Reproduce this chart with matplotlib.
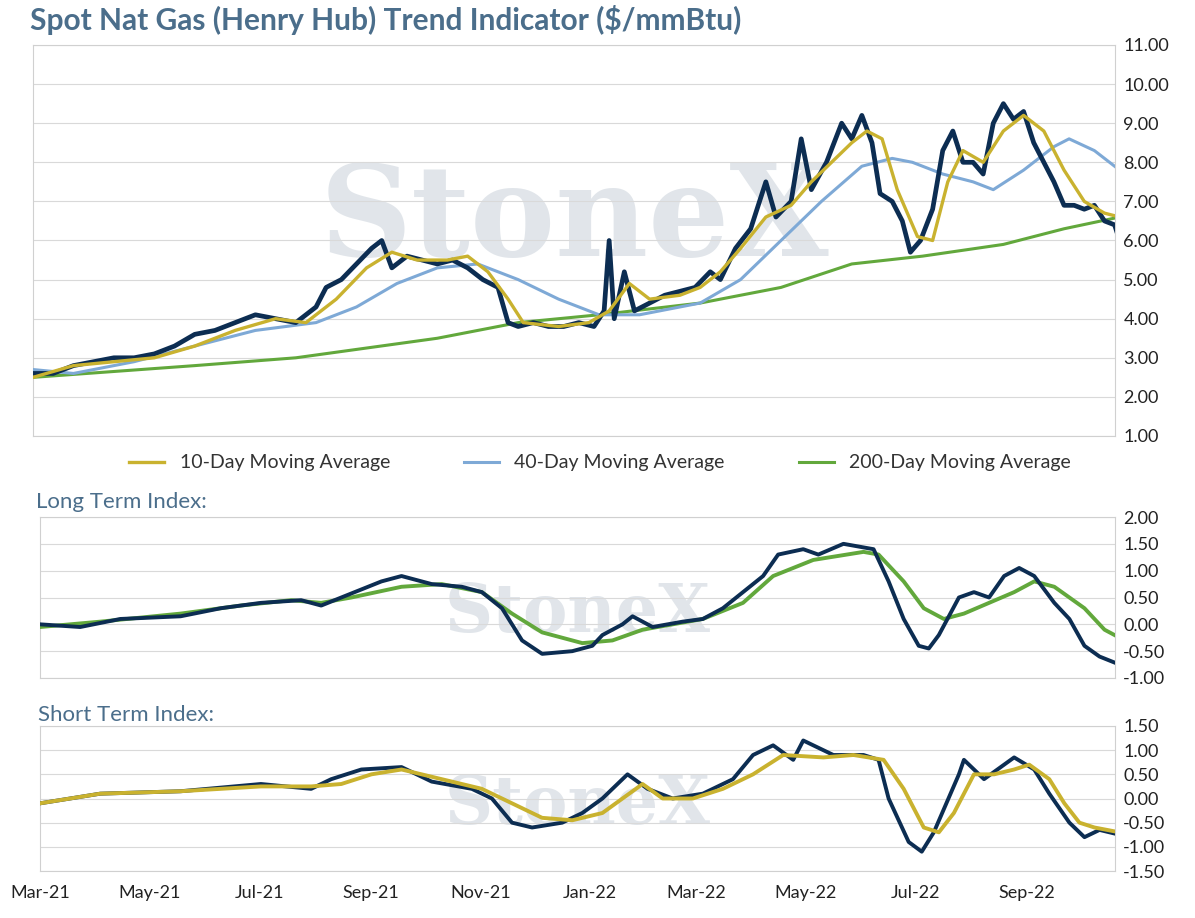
import matplotlib
matplotlib.use("Agg")
import matplotlib.pyplot as plt
import pandas as pd

plt.rcParams['font.family'] = ['Lato', 'DejaVu Sans']

START = pd.Timestamp('2021-03-01')
END = pd.Timestamp('2022-10-20')

def to_dates(pos):
    # positions in "chart units" (1.79 units per day, 40 = Mar 1 2021)
    return [START + pd.Timedelta(days=(p - 40) / 1.79) for p in pos]

price_pos = [40,60,80,100,120,140,160,180,200,220,240,260,280,300,320,330,345,360,375,385,395,410,425,440,455,470,485,500,510,520,535,550,565,580,595,605,610,615,625,635,650,665,680,695,710,720,735,750,765,775,790,800,810,825,840,850,860,870,878,890,900,908,918,930,940,950,960,970,980,990,1000,1010,1020,1030,1040,1050,1060,1070,1080,1090,1100,1110,1115]
price = [2.6,2.6,2.8,2.9,3.0,3.0,3.1,3.3,3.6,3.7,3.9,4.1,4.0,3.9,4.3,4.8,5.0,5.4,5.8,6.0,5.3,5.6,5.5,5.4,5.5,5.3,5.0,4.8,3.9,3.8,3.9,3.8,3.8,3.9,3.8,4.2,6.0,4.0,5.2,4.2,4.4,4.6,4.7,4.8,5.2,5.0,5.8,6.3,7.5,6.6,7.0,8.6,7.3,8.0,9.0,8.6,9.2,8.5,7.2,7.0,6.5,5.7,6.0,6.8,8.3,8.8,8.0,8.0,7.7,9.0,9.5,9.1,9.3,8.5,8.0,7.5,6.9,6.9,6.8,6.9,6.5,6.4,6.0]

ma10_pos = [40,80,120,160,200,240,280,310,340,370,395,420,450,470,490,510,525,560,590,610,630,650,680,700,720,740,765,790,810,830,850,865,880,895,915,930,945,960,980,1000,1020,1040,1060,1080,1100,1115]
ma10 = [2.5,2.8,2.9,3.0,3.3,3.7,4.0,3.9,4.5,5.3,5.7,5.5,5.5,5.6,5.2,4.5,3.9,3.8,3.9,4.2,4.9,4.5,4.6,4.8,5.2,5.8,6.6,6.9,7.5,8.0,8.5,8.8,8.6,7.3,6.1,6.0,7.5,8.3,8.0,8.8,9.2,8.8,7.8,7.0,6.7,6.6]

ma40_pos = [40,80,140,200,260,320,360,400,440,480,520,560,600,640,700,740,780,820,860,890,910,940,970,990,1020,1050,1065,1090,1115]
ma40 = [2.7,2.6,2.9,3.3,3.7,3.9,4.3,4.9,5.3,5.4,5.0,4.5,4.1,4.1,4.4,5.0,6.0,7.0,7.9,8.1,8.0,7.7,7.5,7.3,7.8,8.4,8.6,8.3,7.8]

ma200_pos = [40,200,300,440,520,600,700,780,850,920,1000,1060,1115]
ma200 = [2.5,2.8,3.0,3.5,3.9,4.1,4.4,4.8,5.4,5.6,5.9,6.3,6.6]

lt_pos = [40,80,120,180,220,260,300,320,340,380,400,430,460,480,500,520,540,570,590,600,620,630,650,680,700,720,740,760,775,800,815,840,870,885,900,915,925,935,955,970,985,1000,1015,1030,1050,1065,1080,1095,1115]
lt_idx = [0.0,-0.05,0.1,0.15,0.3,0.4,0.45,0.35,0.5,0.8,0.9,0.75,0.7,0.6,0.3,-0.3,-0.55,-0.5,-0.4,-0.2,0.0,0.15,-0.05,0.05,0.1,0.3,0.6,0.9,1.3,1.4,1.3,1.5,1.4,0.8,0.1,-0.4,-0.45,-0.2,0.5,0.6,0.5,0.9,1.05,0.9,0.4,0.1,-0.4,-0.6,-0.75]
lt_sig_pos = [40,100,180,240,290,320,350,400,440,480,510,540,580,610,640,670,700,740,770,810,860,875,900,920,940,960,985,1010,1030,1050,1080,1100,1115]
lt_sig = [-0.05,0.05,0.2,0.35,0.45,0.4,0.5,0.7,0.75,0.6,0.2,-0.15,-0.35,-0.3,-0.1,0.0,0.1,0.4,0.9,1.2,1.35,1.3,0.8,0.3,0.1,0.2,0.4,0.6,0.8,0.7,0.3,-0.1,-0.25]

st_pos = [40,100,180,260,310,330,360,400,430,470,490,510,530,560,580,600,625,645,670,700,730,750,770,790,800,830,860,875,885,905,918,930,955,960,980,1000,1010,1030,1045,1065,1080,1095,1115]
st_idx = [-0.1,0.1,0.15,0.3,0.2,0.4,0.6,0.65,0.35,0.2,0.0,-0.5,-0.6,-0.5,-0.3,0.0,0.5,0.2,0.0,0.1,0.4,0.9,1.1,0.8,1.2,0.9,0.9,0.8,0.0,-0.9,-1.1,-0.7,0.5,0.8,0.4,0.7,0.85,0.6,0.1,-0.5,-0.8,-0.65,-0.75]
st_sig_pos = [40,100,180,260,310,340,370,400,440,480,510,540,570,600,620,640,660,690,720,750,780,820,850,880,900,920,935,950,970,990,1010,1025,1045,1060,1075,1090,1115]
st_sig = [-0.1,0.1,0.15,0.25,0.25,0.3,0.5,0.6,0.4,0.2,-0.1,-0.4,-0.45,-0.3,0.0,0.3,0.0,0.0,0.2,0.5,0.9,0.85,0.9,0.8,0.2,-0.6,-0.7,-0.3,0.5,0.5,0.6,0.7,0.4,-0.1,-0.5,-0.6,-0.7]

NAVY = '#0c2d52'
GOLD = '#c9b22f'
BLUE = '#7ea9d6'
GREEN = '#62a83c'
TITLE = '#4b6e8b'
GRID = '#d9d9d9'

fig = plt.figure(figsize=(11.95, 9.18), dpi=100)
W, H = 1195, 918

def ax_px(x0, y0, x1, y1):
    return fig.add_axes([x0 / W, 1 - y1 / H, (x1 - x0) / W, (y1 - y0) / H])

def style(ax, ticks, fmt):
    ax.set_xlim(START, END)
    ax.yaxis.tick_right()
    ax.set_yticks(ticks)
    ax.set_yticklabels([fmt.format(t) for t in ticks], fontsize=13, color='#222222')
    ax.tick_params(axis='y', length=0, pad=6)
    ax.set_ylim(ticks[0], ticks[-1])
    ax.grid(axis='y', color=GRID, lw=0.8)
    ax.set_axisbelow(True)
    for s in ax.spines.values():
        s.set_color('#d0d0d0')
    ax.tick_params(axis='x', length=0)
    ax.set_xticklabels([])

def watermark(ax, size, y=0.5):
    ax.text(0.5, y, 'StoneX', transform=ax.transAxes, ha='center', va='center',
            fontsize=size, family='DejaVu Serif', fontweight='bold', color='#a9b6c4', alpha=0.35, zorder=0)

fig.text(30 / W, 1 - 20 / H, 'Spot Nat Gas (Henry Hub) Trend Indicator ($/mmBtu)',
         fontsize=21.5, fontweight='bold', color=TITLE, va='center')

ax1 = ax_px(33, 45, 1115, 436)
style(ax1, [1, 2, 3, 4, 5, 6, 7, 8, 9, 10, 11], '{:.2f}')
watermark(ax1, 92, 0.55)
ax1.plot(to_dates(ma200_pos), ma200, color=GREEN, lw=2.2, label='200-Day Moving Average', zorder=3)
ax1.plot(to_dates(ma40_pos), ma40, color=BLUE, lw=2.2, label='40-Day Moving Average', zorder=3)
ax1.plot(to_dates(price_pos), price, color=NAVY, lw=3.4, zorder=4)
ax1.plot(to_dates(ma10_pos), ma10, color=GOLD, lw=2.4, label='10-Day Moving Average', zorder=5)
h, l = ax1.get_legend_handles_labels()
order = [2, 1, 0]
fig.legend([h[i] for i in order], [l[i] for i in order], loc='center', ncol=3,
           bbox_to_anchor=(600 / W, 1 - 463 / H), frameon=False, fontsize=14,
           handlelength=1.8, columnspacing=3.8, labelcolor='#333333')

fig.text(36 / W, 1 - 502 / H, 'Long Term Index:', fontsize=16, color=TITLE, va='center')
ax2 = ax_px(40, 517, 1115, 678)
style(ax2, [-1.0, -0.5, 0.0, 0.5, 1.0, 1.5, 2.0], '{:.2f}')
watermark(ax2, 48, 0.4)
ax2.plot(to_dates(lt_sig_pos), lt_sig, color=GREEN, lw=2.8, zorder=3)
ax2.plot(to_dates(lt_pos), lt_idx, color=NAVY, lw=2.8, zorder=4)

fig.text(38 / W, 1 - 715 / H, 'Short Term Index:', fontsize=16, color=TITLE, va='center')
ax3 = ax_px(40, 726, 1115, 871)
style(ax3, [-1.5, -1.0, -0.5, 0.0, 0.5, 1.0, 1.5], '{:.2f}')
watermark(ax3, 48, 0.45)
ax3.plot(to_dates(st_pos), st_idx, color=NAVY, lw=2.8, zorder=3)
ax3.plot(to_dates(st_sig_pos), st_sig, color=GOLD, lw=2.8, zorder=4)

months = pd.date_range('2021-03-01', '2022-09-01', freq='2MS')
ax3.set_xticks(months)
ax3.set_xticklabels([m.strftime('%b-%y') for m in months], fontsize=13, color='#222222')
ax3.tick_params(axis='x', length=0, pad=10)

fig.savefig('out.png', dpi=100)
